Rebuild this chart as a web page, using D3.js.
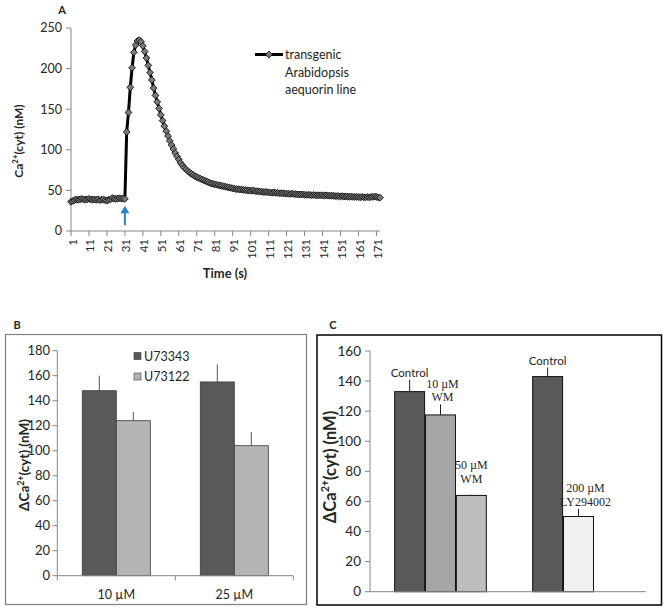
<!DOCTYPE html>
<html><head><meta charset="utf-8">
<script src="https://cdn.jsdelivr.net/npm/d3@7"></script>
<style>body{margin:0;background:#fff} text{fill:#262626}</style>
</head><body><svg id="c" width="664" height="610" font-family="Lato, 'Open Sans', sans-serif"></svg>
<script>
// ---------- DATA ----------
const timeSeconds = d3.range(1, 174);
const caValues = [
 36, 37, 38, 39, 38.5, 39, 39.5, 39, 38.5, 39,
 39.5, 39, 38.5, 39, 38.5, 39, 38, 38.5, 39, 38,
 37.5, 38.5, 39, 40.5, 40, 39.5, 40, 40.5, 40, 40,
 39.5,
 122, 146, 177, 201, 220, 229, 234, 235, 233,
 228, 221, 213, 204, 195, 186, 176, 167, 159, 151,
 143, 136, 129, 123, 117, 111, 106, 101, 96, 92,
 88, 84, 81, 78, 76, 74, 72, 70.5, 69, 67.5,
 66.5, 65.5, 64.5, 63.5, 62.5, 61.5, 60.5, 59.5, 58.5, 58,
 57.5, 57, 56.5, 56, 55.5, 55, 54.5, 54, 53.5, 53,
 52.5, 52, 51.5, 51.5, 51, 51, 50.5, 50.5, 50, 50,
 49.5, 50, 49.5, 49, 49, 48.5, 48.5, 48, 48, 48,
 47.5, 47.5, 47, 47.5, 47, 47, 46.5, 46.5, 46.5, 46,
 46, 46, 45.5, 46, 45.5, 45.5, 45, 45, 45, 45,
 44.5, 44.5, 44.5, 44.5, 44, 44.5, 44, 44, 44, 44,
 44, 43.5, 44, 43.5, 43.5, 43.5, 43.5, 43, 43, 43,
 42.5, 43, 42.5, 42.5, 42.5, 42, 42.5, 42, 42, 42,
 42, 41.5, 42, 41.5, 41.5, 42, 41.5, 42, 42, 42.5,
 42, 41.5, 41
];
const timeTickLabels = [1, 11, 21, 31, 41, 51, 61, 71, 81, 91, 101, 111, 121, 131, 141, 151, 161, 171];
const caTicks = [0, 50, 100, 150, 200, 250];
const stimulusTime = 31;
const legendALines = ["transgenic", "Arabidopsis", "aequorin line"];

const bCategories = ["10 µM", "25 µM"];
const bSeries = ["U73343", "U73122"];
const bU73343 = [148, 155];
const bU73343Err = [12, 14];
const bU73122 = [124, 104];
const bU73122Err = [7, 11];
const bTicks = [0, 20, 40, 60, 80, 100, 120, 140, 160, 180];

const cGroups = ["WM", "LY294002"];
const cBarGroup = [0, 0, 0, 1, 1];
const cBarSlot = [0, 1, 2, 0, 1];
const cValues = [133, 117.5, 64, 143, 50];
const cErrors = [8, 7, 0.5, 6, 5];
const cLabelLines = [["Control"], ["10 µM", "WM"], ["50 µM", "WM"], ["Control"], ["200 µM", "LY294002"]];
const cTicks = [0, 20, 40, 60, 80, 100, 120, 140, 160];

// ---------- DRAW ----------
const svg = d3.select("#c");
svg.append("rect").attr("width", 664).attr("height", 610).attr("fill", "#fff");
const axisGray = "#868686";

function caTitle(g, x, y, size, delta) {
  const t = g.append("text").attr("transform", `translate(${x},${y}) rotate(-90)`)
    .attr("text-anchor", "middle").attr("font-weight", "bold").attr("font-size", size);
  t.append("tspan").text((delta ? "Δ" : "") + "Ca");
  t.append("tspan").attr("font-size", size * 0.65).attr("dy", -size * 0.4).text("2+");
  t.append("tspan").attr("dy", size * 0.4).text("(cyt) (nM)");
}

// ===== Panel A =====
{
  const g = svg.append("g");
  const x = d3.scalePoint().domain(timeSeconds).range([71, 380]);
  const y = d3.scaleLinear().domain([0, 250]).range([231, 28]);

  g.append("line").attr("x1", 71).attr("x2", 71).attr("y1", 28).attr("y2", 231).attr("stroke", axisGray);
  g.append("line").attr("x1", 71).attr("x2", 380).attr("y1", 231).attr("y2", 231).attr("stroke", axisGray);
  caTicks.forEach(v => {
    g.append("line").attr("x1", 66).attr("x2", 71).attr("y1", y(v)).attr("y2", y(v)).attr("stroke", axisGray);
    g.append("text").attr("x", 62).attr("y", y(v)).attr("dy", "0.35em").attr("text-anchor", "end")
      .attr("font-size", 12.5).text(v);
  });
  timeTickLabels.forEach(t => {
    g.append("line").attr("x1", x(t)).attr("x2", x(t)).attr("y1", 231).attr("y2", 236).attr("stroke", axisGray);
    g.append("text").attr("transform", `translate(${x(t) + 1},239) rotate(-90)`)
      .attr("text-anchor", "end").attr("dominant-baseline", "central").attr("font-size", 11.5).text(t);
  });

  const pts = timeSeconds.map((t, i) => [x(t), y(caValues[i])]);
  g.append("path").attr("d", d3.line()(pts)).attr("fill", "none").attr("stroke", "#000").attr("stroke-width", 3);
  const diamond = "M0,-3.4L3.4,0L0,3.4L-3.4,0Z";
  g.selectAll(".m").data(pts).join("path").attr("d", diamond)
    .attr("transform", d => `translate(${d[0]},${d[1]})`)
    .attr("fill", "#7a7a7a").attr("stroke", "#111").attr("stroke-width", 0.9);

  const ax = x(stimulusTime);
  g.append("line").attr("x1", ax).attr("x2", ax).attr("y1", y(7)).attr("y2", y(26))
    .attr("stroke", "#2f7fc8").attr("stroke-width", 2);
  g.append("path").attr("d", `M${ax},${y(31)}L${ax - 4.5},${y(22)}L${ax + 4.5},${y(22)}Z`).attr("fill", "#2f7fc8");

  g.append("text").attr("x", 62).attr("y", 14).attr("text-anchor", "middle").attr("font-weight", "bold")
    .attr("font-size", 11).text("A");
  caTitle(g, 23, 141, 12, false);
  g.append("text").attr("x", 225).attr("y", 278).attr("text-anchor", "middle").attr("font-weight", "bold")
    .attr("font-size", 13).text("Time (s)");

  g.append("line").attr("x1", 255).attr("x2", 283).attr("y1", 54.5).attr("y2", 54.5).attr("stroke", "#000").attr("stroke-width", 3);
  g.append("path").attr("d", diamond).attr("transform", "translate(269,54.5)")
    .attr("fill", "#7a7a7a").attr("stroke", "#111").attr("stroke-width", 0.9);
  legendALines.forEach((s, i) => {
    g.append("text").attr("x", 285).attr("y", 59 + i * 17.5).attr("font-size", 12.5).text(s);
  });
}

// ===== Panel B =====
{
  const g = svg.append("g");
  g.append("rect").attr("x", 5.5).attr("y", 334.5).attr("width", 301).attr("height", 270)
    .attr("fill", "none").attr("stroke", "#7f7f7f").attr("stroke-width", 1.2);
  g.append("text").attr("x", 17).attr("y", 329).attr("text-anchor", "middle").attr("font-weight", "bold")
    .attr("font-size", 11).text("B");

  const y = d3.scaleLinear().domain([0, 180]).range([575.7, 350.7]);
  const x0 = d3.scaleBand().domain(bCategories).range([57.3, 293.3]);
  const x1 = d3.scaleBand().domain(bSeries).range([0, x0.bandwidth()]).paddingOuter(0.735);
  const colors = {"U73343": "#595959", "U73122": "#b4b4b4"};
  const vals = {"U73343": bU73343, "U73122": bU73122};
  const errs = {"U73343": bU73343Err, "U73122": bU73122Err};

  g.append("line").attr("x1", 57.3).attr("x2", 57.3).attr("y1", 350.7).attr("y2", 575.7).attr("stroke", axisGray);
  bTicks.forEach(v => {
    g.append("line").attr("x1", 52.5).attr("x2", 57.3).attr("y1", y(v)).attr("y2", y(v)).attr("stroke", axisGray);
    g.append("text").attr("x", 50).attr("y", y(v)).attr("dy", "0.35em").attr("text-anchor", "end")
      .attr("font-size", 13).text(v);
  });

  bSeries.forEach(s => {
    bCategories.forEach((c, i) => {
      const bx = x0(c) + x1(s), bw = x1.bandwidth();
      const v = vals[s][i], e = errs[s][i];
      g.append("line").attr("x1", bx + bw / 2).attr("x2", bx + bw / 2).attr("y1", y(v)).attr("y2", y(v + e))
        .attr("stroke", "#555").attr("stroke-width", 1);
      g.append("rect").attr("x", bx).attr("y", y(v)).attr("width", bw).attr("height", y(0) - y(v))
        .attr("fill", colors[s]).attr("stroke", "#3a3a3a").attr("stroke-width", 0.8);
    });
  });

  g.append("line").attr("x1", 57.3).attr("x2", 293.3).attr("y1", 575.7).attr("y2", 575.7).attr("stroke", axisGray);
  [57.3, 175.3, 293.3].forEach(xx => g.append("line").attr("x1", xx).attr("x2", xx).attr("y1", 575.7).attr("y2", 580.5).attr("stroke", axisGray));
  bCategories.forEach(c => {
    g.append("text").attr("x", x0(c) + x0.bandwidth() / 2).attr("y", 598.5).attr("text-anchor", "middle")
      .attr("font-size", 12.5).text(c);
  });

  bSeries.forEach((s, i) => {
    g.append("rect").attr("x", 134).attr("y", 352.5 + i * 20.5).attr("width", 7).attr("height", 7)
      .attr("fill", colors[s]).attr("stroke", "#3a3a3a").attr("stroke-width", 0.6);
    g.append("text").attr("x", 144).attr("y", 360.5 + i * 20.5).attr("font-size", 12.5).text(s);
  });

  caTitle(g, 29, 465, 13.5, true);
}

// ===== Panel C =====
{
  const g = svg.append("g");
  g.append("rect").attr("x", 317).attr("y", 335).attr("width", 344.5).attr("height", 270)
    .attr("fill", "none").attr("stroke", "#000").attr("stroke-width", 1.5);
  g.append("text").attr("x", 333).attr("y", 329).attr("text-anchor", "middle").attr("font-weight", "bold")
    .attr("font-size", 11).text("C");

  const y = d3.scaleLinear().domain([0, 160]).range([591.7, 351]);
  const x0 = d3.scaleBand().domain(cGroups).range([371.5, 647.5]);
  const x1 = d3.scaleBand().domain([0, 1, 2]).range([0, x0.bandwidth()]).paddingOuter(0.75).paddingInner(0.03);
  const cColors = ["#595959", "#a6a6a6", "#bdbdbd", "#595959", "#f0f0f0"];

  g.append("line").attr("x1", 370).attr("x2", 370).attr("y1", 351).attr("y2", 591.7).attr("stroke", axisGray);
  cTicks.forEach(v => {
    g.append("line").attr("x1", 365).attr("x2", 370).attr("y1", y(v)).attr("y2", y(v)).attr("stroke", axisGray);
    g.append("text").attr("x", 361).attr("y", y(v)).attr("dy", "0.35em").attr("text-anchor", "end")
      .attr("font-size", 13.5).text(v);
  });

  const labelGap = [3, 3, 12, 3, 3];
  const labelDx = [0, 2, 0, 0, 7];
  cValues.forEach((v, i) => {
    const bx = x0(cGroups[cBarGroup[i]]) + x1(cBarSlot[i]), bw = x1.bandwidth();
    const cx = bx + bw / 2;
    g.append("line").attr("x1", cx).attr("x2", cx).attr("y1", y(v)).attr("y2", y(v + cErrors[i]))
      .attr("stroke", "#222").attr("stroke-width", 1);
    g.append("rect").attr("x", bx).attr("y", y(v)).attr("width", bw).attr("height", y(0) - y(v))
      .attr("fill", cColors[i]).attr("stroke", "#111").attr("stroke-width", 1);
    const lines = cLabelLines[i];
    const baseY = y(v + cErrors[i]) - labelGap[i];
    const isSans = lines.length === 1;
    lines.forEach((s, k) => {
      g.append("text").attr("x", cx + labelDx[i]).attr("y", baseY - (lines.length - 1 - k) * 13.5)
        .attr("text-anchor", "middle")
        .attr("font-family", isSans ? "Lato, sans-serif" : "'Liberation Serif', 'Times New Roman', serif")
        .attr("font-size", isSans ? 11.5 : 12).text(s);
    });
  });

  g.append("line").attr("x1", 370).attr("x2", 646).attr("y1", 591.7).attr("y2", 591.7).attr("stroke", axisGray);
  caTitle(g, 336, 467, 16.5, true);
}
</script></body></html>
